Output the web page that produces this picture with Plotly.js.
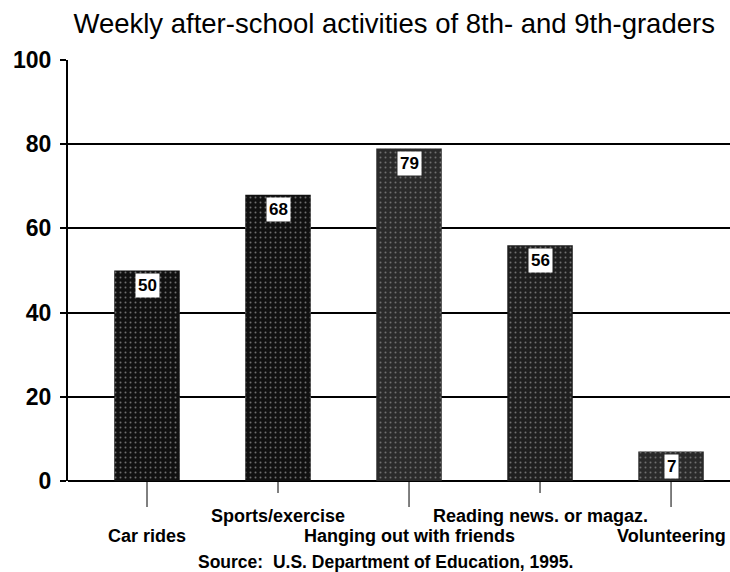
<!DOCTYPE html>
<html><head><meta charset="utf-8">
<script src="https://cdn.plot.ly/plotly-3.0.1.min.js"></script>
<style>html,body{margin:0;padding:0;background:#fff}#chart{width:730px;height:572px}</style>
</head><body><div id="chart"></div>
<script>
const categories = ["Car rides","Sports/exercise","Hanging out with friends","Reading news. or magaz.","Volunteering"];
const values = [50, 68, 79, 56, 7];
const valueLabels = ["50","68","79","56","7"];
const yTicks = [0,20,40,60,80,100];
const sourceText = "Source:  U.S. Department of Education, 1995.";
const titleText = "Weekly after-school activities of 8th- and 9th-graders";

const xs = categories.map((c,i)=>i);
const lowRow = [true,false,true,false,true];
const barColors = ["#111111","#111111","#2a2a2a","#1e1e1e","#2a2a2a"];

const solid = {
  type:'bar', x: xs, y: values, width: 0.5,
  marker:{color: barColors, line:{width:0}}, hoverinfo:'none'
};
const speckle = {
  type:'bar', x: xs, y: values, width: 0.5,
  marker:{color:'rgba(0,0,0,0)', line:{width:0},
    pattern:{shape:'.', fgcolor:'#6f6f6f', bgcolor:'rgba(0,0,0,0)', size:5, solidity:0.12}},
  hoverinfo:'none'
};

const annotations = [];
const shapes = [];
const plotH = 421;
const labFont = {family:'Arial, Liberation Sans', size:18, color:'#000'};
xs.forEach((x,i)=>{
  annotations.push({x:x, y:values[i], xref:'x', yref:'y', text:'<b>'+valueLabels[i]+'</b>',
    showarrow:false, yshift:-15, bgcolor:'#fff', borderpad:2,
    font:{family:'Arial, Liberation Sans', size:17, color:'#000'}});
  const low = lowRow[i];
  shapes.push({type:'line', xref:'x', yref:'paper', x0:x, x1:x, y0:0, y1: low ? -26/plotH : -12/plotH,
    line:{color:'#000', width:1}});
  annotations.push({x:x, xref:'x', yref:'paper', y: low ? -(55/plotH) : -(35/plotH), yanchor:'middle',
    text:'<b>'+categories[i]+'</b>', showarrow:false, font:labFont});
});
annotations.push({x:0.479, xref:'paper', yref:'paper', y:-(81/plotH), yanchor:'middle',
  text:'<b>'+sourceText+'</b>', showarrow:false,
  font:{family:'Arial, Liberation Sans', size:17.5, color:'#000'}});

const layout = {
  width:730, height:572,
  margin:{l:68, r:0, t:60, b:91},
  paper_bgcolor:'#fff', plot_bgcolor:'#fff',
  barmode:'overlay',
  title:{text:titleText, x:0.54, xanchor:'center', y:0.96, yanchor:'middle',
    font:{family:'Arial, Liberation Sans', size:27.5, color:'#000'}},
  xaxis:{range:[-0.603, 4.45], showticklabels:false, ticks:'', showgrid:false, zeroline:false, showline:false, fixedrange:true},
  yaxis:{range:[0,100], tickvals:yTicks, ticktext:yTicks.map(String), ticks:'outside', ticklen:6, tickcolor:'#000', tickwidth:2,
    showline:true, linecolor:'#000', linewidth:2, gridcolor:'#000', gridwidth:2, zeroline:true, zerolinecolor:'#000', zerolinewidth:2,
    tickfont:{family:'Arial, Liberation Sans', size:23, color:'#000', weight:'bold'}, ticklabelstandoff:4},
  showlegend:false,
  annotations: annotations,
  shapes: shapes
};
Plotly.newPlot('chart',[solid, speckle],layout,{displayModeBar:false, staticPlot:true});
</script></body></html>
